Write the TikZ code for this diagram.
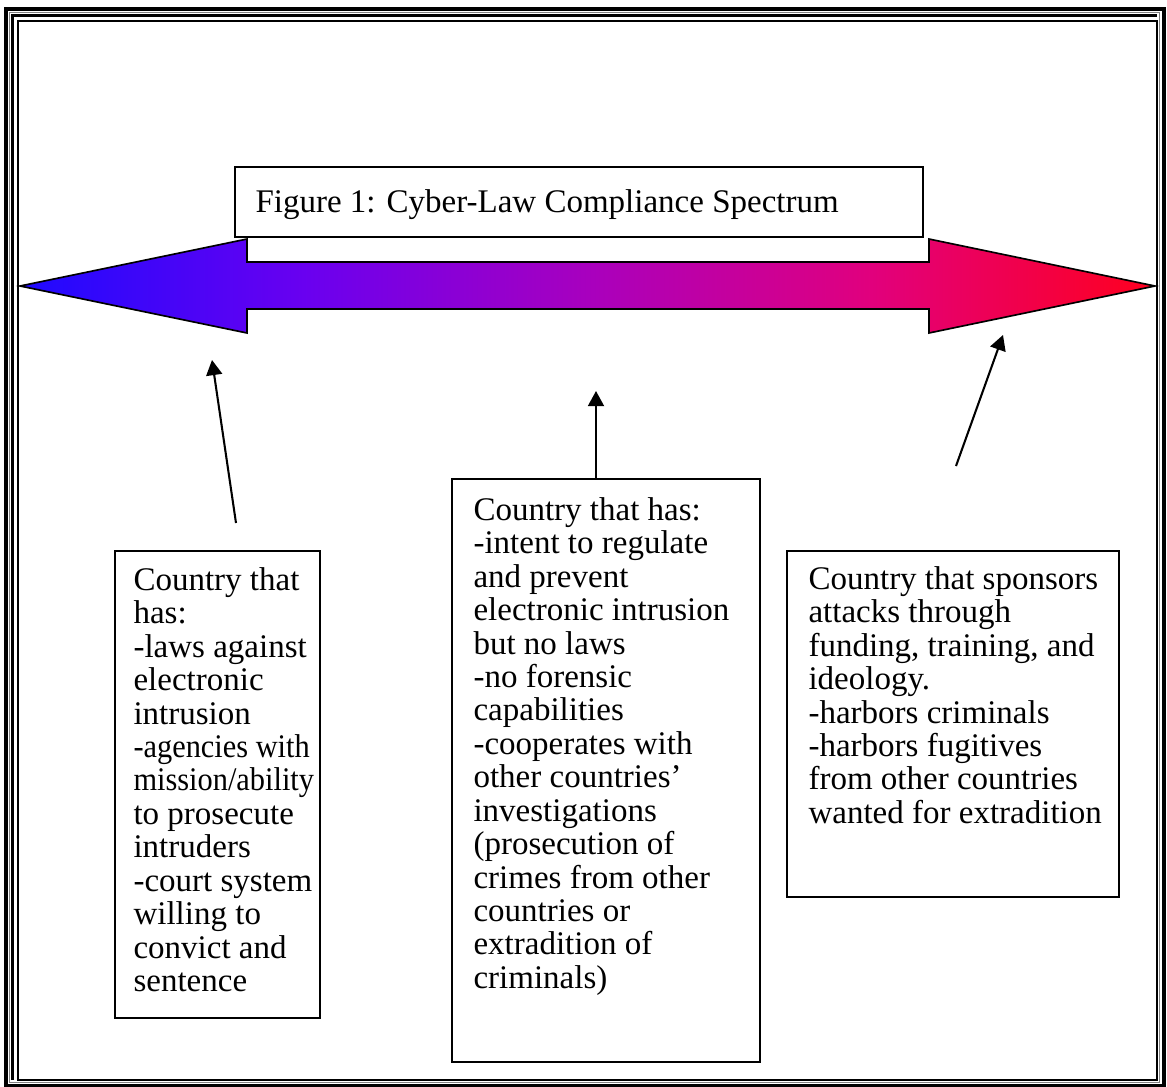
\documentclass[tikz,border=0pt]{standalone}
\usepackage{fontspec}
\setmainfont{Liberation Serif}
\usetikzlibrary{arrows.meta,fit}
\definecolor{arrowL}{RGB}{30,10,255}
\definecolor{arrowA}{RGB}{105,0,240}
\definecolor{arrowM}{RGB}{168,0,190}
\definecolor{arrowB}{RGB}{225,0,125}
\definecolor{arrowR}{RGB}{255,0,30}
\pgfdeclarehorizontalshading{spectrum}{100bp}{color(0bp)=(arrowL); color(25bp)=(arrowL); color(37.5bp)=(arrowA); color(50bp)=(arrowM); color(62.5bp)=(arrowB); color(75bp)=(arrowR); color(100bp)=(arrowR)}
\newcommand{\narrow}[1]{\scalebox{0.92}[1]{#1}}
\begin{document}
\begin{tikzpicture}[x=0.3636pt,y=-0.3636pt,
  box/.style={draw, line width=0.75pt, fill=white, inner sep=0pt},
  txt/.style={anchor=north west, align=left, inner sep=0pt, font=\fontsize{12}{12.15}\selectfont},
  link/.style={line width=0.75pt, -{Triangle[length=5.5pt,width=5.8pt]}},
  frame/.style={draw=black}]
\useasboundingbox (0,0) rectangle (1167,1087);
% page border
\draw[frame, line width=1.7pt] (6,9) rectangle (1164,1086);
\draw[gray, line width=0.4pt] (9.5,12.5) rectangle (1159.5,1082.5);
\draw[frame, line width=1.2pt] (12.5,1080) -- (12.5,15.5) -- (1157,15.5);
\draw[frame, line width=0.75pt] (18,21) rectangle (1157,1080);
% spectrum arrow
\draw[line width=0.6pt, shading=spectrum]
  (20,286) -- (247,239) -- (247,262) -- (929,262) -- (929,239) -- (1155,286)
  -- (929,333) -- (929,309) -- (247,309) -- (247,333) -- cycle;
% title
\node[box, fit={(235,167) (923,237)}] (titlebox) {};
\node[txt] (title) at (255,189) {Figure 1: Cyber-Law Compliance Spectrum};
% boxes
\node[box, fit={(115,551) (320,1018)}] (leftbox) {};
\node[box, fit={(452,479) (760,1062)}] (midbox) {};
\node[box, fit={(787,551) (1119,897)}] (rightbox) {};
\node[txt] (lefttext) at (133,567) {Country that\\has:\\-laws against\\electronic\\intrusion\\\narrow{-agencies with}\\\narrow{mission/ability}\\to prosecute\\intruders\\-court system\\willing to\\convict and\\sentence};
\node[txt] (midtext) at (473,497) {Country that has:\\-intent to regulate\\and prevent\\electronic intrusion\\but no laws\\-no forensic\\capabilities\\-cooperates with\\other countries’\\investigations\\(prosecution of\\crimes from other\\countries or\\extradition of\\criminals)};
\node[txt] (righttext) at (808,566) {Country that sponsors\\attacks through\\funding, training, and\\ideology.\\-harbors criminals\\-harbors fugitives\\from other countries\\wanted for extradition};
% connectors
\coordinate (ls) at (236,523);
\coordinate (lt) at (212,360);
\coordinate (ms) at (596,479);
\coordinate (mt) at (596,391);
\coordinate (rs) at (956,466);
\coordinate (rt) at (1003,335);
\draw[link] (ls) -- (lt);
\draw[link] (ms) -- (mt);
\draw[link] (rs) -- (rt);
\end{tikzpicture}
\end{document}
